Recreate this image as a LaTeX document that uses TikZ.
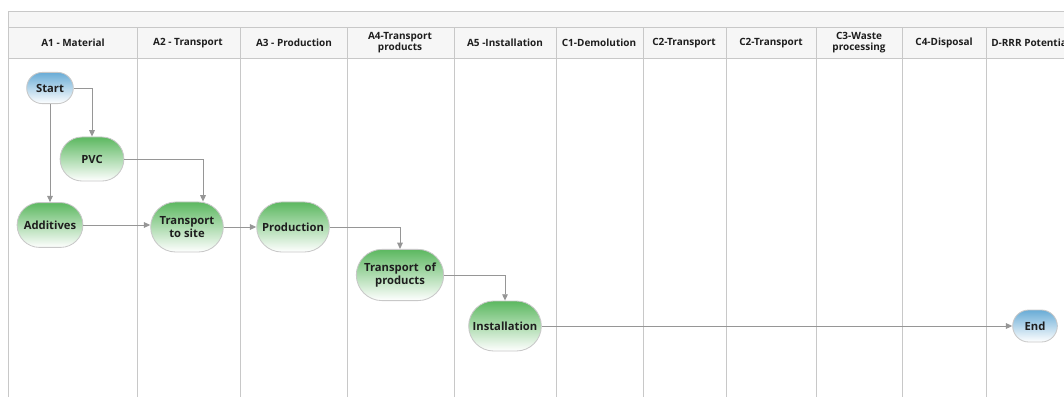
\documentclass[tikz,border=0pt]{standalone}
\usepackage{fontspec}
\setmainfont{Open Sans}
\usetikzlibrary{arrows.meta,shapes.misc}
\definecolor{gridgray}{RGB}{200,200,200}
\definecolor{bandgray}{RGB}{246,246,246}
\definecolor{linkgray}{RGB}{150,150,150}
\definecolor{stepgreen}{RGB}{92,184,96}
\definecolor{termblue}{RGB}{105,172,214}
\definecolor{textdark}{RGB}{30,30,30}

\begin{document}
\begin{tikzpicture}[x=0.025cm,y=-0.025cm,
  lane/.style={draw=gridgray,line width=0.6pt},
  headtext/.style={font=\bfseries\fontsize{7.1}{7.8}\selectfont,text=textdark,align=center,inner sep=0pt},
  task/.style={rounded rectangle,draw=gridgray,line width=0.6pt,top color=stepgreen,bottom color=white,
    font=\bfseries\fontsize{8}{9.2}\selectfont,text=textdark,align=center,minimum width=2.05cm,minimum height=1.25cm},
  term/.style={task,top color=termblue,minimum width=1.4cm,minimum height=0.78cm},
  link/.style={draw=linkgray,line width=0.7pt,-{Triangle[length=4.5pt,width=4pt]}}]
\useasboundingbox (0,0) rectangle (1064,396);
\clip (0,0) rectangle (1064,396);
% frame and header band
\fill[bandgray] (8,11) rectangle (1070,58);
\draw[lane] (1070,11) -- (8,11) -- (8,400);
\draw[lane] (8,27) -- (1070,27);
\draw[lane] (8,58) -- (1070,58);
\foreach \x in {137,240,347,454,556,643,726,816,902,986}
  \draw[lane] (\x,27) -- (\x,400);
% lane titles
\node[headtext] (h1) at (73,43) {A1 - Material};
\node[headtext] (h2) at (188,43) {A2 - Transport};
\node[headtext] (h3) at (294,43) {A3 - Production};
\node[headtext] (h4) at (400,43) {A4-Transport\\products};
\node[headtext] (h5) at (505,43) {A5 -Installation};
\node[headtext] (h6) at (599,43) {C1-Demolution};
\node[headtext] (h7) at (684,43) {C2-Transport};
\node[headtext] (h8) at (771,43) {C2-Transport};
\node[headtext] (h9) at (859,43) {C3-Waste\\processing};
\node[headtext] (h10) at (944,43) {C4-Disposal};
\node[headtext,anchor=west] (h11) at (991,43) {D-RRR Potential};
% process steps
\node[term] (start) at (50,88) {Start};
\node[task,minimum width=1.83cm,minimum height=1.1cm] (pvc) at (92,159) {PVC};
\node[task,minimum width=1.88cm,minimum height=1.12cm] (add) at (50,225) {Additives};
\node[task] (site) at (187,227) {Transport\\to site};
\node[task] (prod) at (293,227) {Production};
\node[task,minimum width=2.15cm,minimum height=1.28cm] (tprod) at (400,275) {Transport~~of\\products};
\node[task] (inst) at (505,326) {Installation};
\node[term,minimum width=1.35cm,minimum height=0.8cm] (end) at (1035,326) {End};
% flows
\draw[link] (start.east) -| (pvc.north);
\draw[link] (start.south) -- (add.north);
\draw[link] (pvc.east) -| ([xshift=0.4cm]site.north);
\draw[link] (add.east) -- (add.east -| site.west);
\draw[link] (site.east) -- (prod.west);
\draw[link] (prod.east) -| (tprod.north);
\draw[link] (tprod.east) -| (inst.north);
\draw[link] (inst.east) -- (end.west);
\end{tikzpicture}
\end{document}
